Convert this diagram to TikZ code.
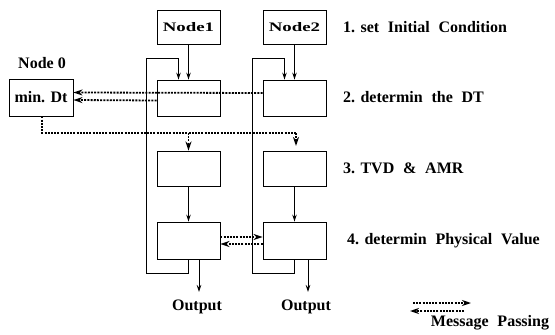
\documentclass[tikz,border=0pt]{standalone}
\usepackage{fontspec}
\usepackage{graphicx}
\setmainfont{Liberation Serif}
\usetikzlibrary{arrows.meta}
\newcommand{\wgap}{\hspace{0.55em}}
\newcommand{\widetext}[1]{\scalebox{1.45}[1]{#1}\hspace{8pt}}
\begin{document}
\begin{tikzpicture}[x=1pt,y=-1pt,
  box/.style={draw,line width=0.9pt,minimum width=63pt,minimum height=35pt,inner sep=0pt},
  lab/.style={font=\fontsize{16}{18}\selectfont\bfseries,anchor=west,inner sep=0pt},
  txt/.style={font=\fontsize{16}{18}\selectfont\bfseries,inner sep=0pt},
  flow/.style={line width=0.8pt,-{Stealth[length=7pt,width=4.5pt]}},
  msgline/.style={line width=1.8pt,dash pattern=on 2pt off 1.2pt},
  msg/.style={msgline,-{Stealth[length=9pt,width=6pt]}}
]
\useasboundingbox (0,0) rectangle (555,335);

% top nodes
\node[box,minimum height=34pt,font=\fontsize{13}{15}\selectfont\bfseries] (n1) at (188.5,27) {\widetext{Node1}};
\node[box,minimum height=34pt,font=\fontsize{13}{15}\selectfont\bfseries] (n2) at (294.5,27) {\widetext{Node2}};

% node 0
\node[txt] (n0lab) at (42,63) {Node 0};
\node[box,minimum width=64pt,minimum height=37pt,txt] (m0) at (41,97.5) {min. Dt};

% process boxes
\node[box,minimum height=36pt] (b12) at (188.5,98) {};
\node[box,minimum height=36pt] (b22) at (294.5,98) {};
\node[box,minimum height=35pt] (b13) at (188.5,168.5) {};
\node[box,minimum height=35pt] (b23) at (294.5,168.5) {};
\node[box,minimum height=37pt] (b14) at (188.5,240.5) {};
\node[box,minimum height=37pt] (b24) at (294.5,240.5) {};

% step labels
\node[lab] (s1) at (343,27) {1. set\wgap Initial\wgap Condition};
\node[lab] (s2) at (343,97) {2. determin\wgap the\wgap DT};
\node[lab] (s3) at (343,168) {3. TVD\wgap \&\wgap AMR};
\node[lab] (s4) at (347,241) {4. determin\wgap Physical\wgap Value};

% outputs
\node[txt] (out1) at (197,307) {Output};
\node[txt] (out2) at (306,307) {Output};
\coordinate (o1) at (199,292);
\coordinate (o2) at (308,292);

% solid flows
\draw[flow] (n1) -- (b12);
\draw[flow] (n2) -- (b22);
\draw[flow] (b13) -- (b14);
\draw[flow] (b23) -- (b24);
\draw[flow] (b14.south -| o1) -- (o1);
\draw[flow] (b24.south -| o2) -- (o2);

% loops
\coordinate (l1a) at (146,273);
\coordinate (l1b) at (146,58);
\coordinate (l2a) at (252,273);
\coordinate (l2b) at (252,58);
\draw[flow] (b14.south) |- (l1a) -- (l1b) -| ([xshift=-10pt]b12.north);
\draw[flow] (b24.south) |- (l2a) -- (l2b) -| ([xshift=-10pt]b22.north);

% message passing: gather dt
\draw[msg] ([yshift=5pt]b22.west) -- ([yshift=5pt]m0.east);
\draw[msg] ([yshift=-2.5pt]b12.west) -- ([yshift=-2.5pt]m0.east);

% broadcast dt
\coordinate (c1) at (188.5,133);
\coordinate (c2) at (296,133);
\coordinate (c2e) at (296,146);
\draw[msgline] (m0.south -| 42,0) |- (c2);
\draw[msg] (c2) -- (c2e);
\draw[msg] (c1) -- (b13.north);

% exchange in step 4
\draw[msg] ([yshift=3.5pt]b14.east) -- ([yshift=3.5pt]b24.west);
\draw[msg] ([yshift=-3.5pt]b24.west) -- ([yshift=-3.5pt]b14.east);

% legend
\coordinate (g1) at (413,303);
\coordinate (g2) at (471,303);
\coordinate (g3) at (464,311);
\coordinate (g4) at (410,311);
\draw[msg] (g1) -- (g2);
\draw[msg] (g3) -- (g4);
\node[txt] (leg) at (490,323) {Message\wgap Passing};
\end{tikzpicture}
\end{document}
